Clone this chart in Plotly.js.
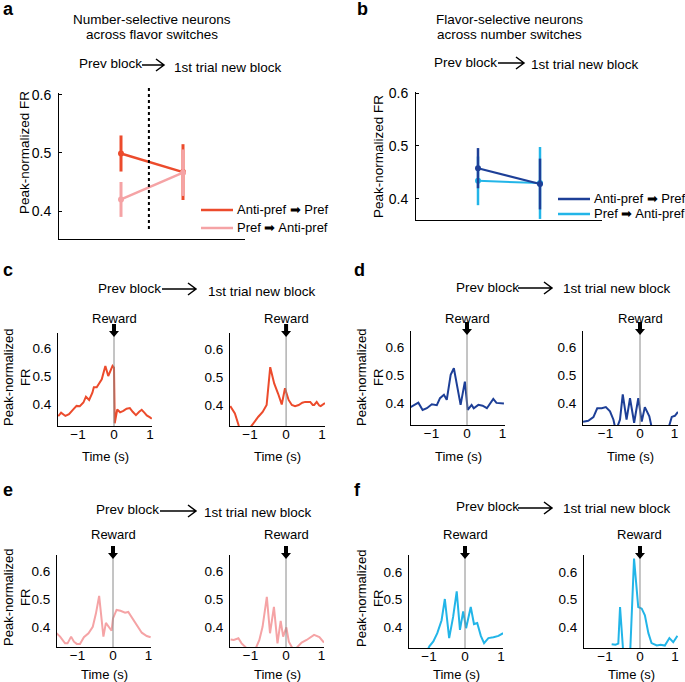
<!DOCTYPE html>
<html>
<head>
<meta charset="utf-8">
<script src="https://cdn.plot.ly/plotly-3.0.1.min.js"></script>
<style>html,body{margin:0;padding:0;background:#fff;}#chart{width:685px;height:682px;}</style>
</head>
<body>
<div id="chart"></div>
<script>
// ---------------- DATA ----------------
// Panel a: number-selective neurons across flavor switches
const blockPos = [1, 2];                    // prev block, 1st trial new block
const aAntiPref = [0.499, 0.467];
const aAntiPrefErr = [0.031, 0.048];
const aPref = [0.420, 0.466];
const aPrefErr = [0.030, 0.040];
// Panel b: flavor-selective neurons across number switches
const bAntiPref = [0.458, 0.428];
const bAntiPrefErr = [0.038, 0.048];
const bPref = [0.434, 0.430];
const bPrefErr = [0.046, 0.068];

const legendLabels = ['Anti-pref \u27A1 Pref', 'Pref \u27A1 Anti-pref'];
const yTickVals = [0.4, 0.5, 0.6];
const yTickText = ['0.4', '0.5', '0.6'];
const xTickVals = [-1, 0, 1];
const xTickText = ['\u22121', '0', '1'];

// Panel c (red, number-selective anti-pref -> pref)
const cPrevT = [-1.55,-1.47,-1.35,-1.25,-1.15,-1.04,-0.95,-0.85,-0.78,-0.69,-0.60,-0.56,-0.48,-0.40,-0.34,-0.24,-0.16,-0.04,0.0,0.02,0.09,0.17,0.26,0.35,0.44,0.52,0.61,0.70,0.77,0.85,0.91,1.0,1.05];
const cPrevFR = [0.356,0.369,0.357,0.363,0.378,0.393,0.392,0.405,0.426,0.414,0.440,0.460,0.460,0.475,0.488,0.536,0.500,0.536,0.530,0.331,0.380,0.370,0.375,0.383,0.385,0.372,0.360,0.372,0.379,0.368,0.359,0.352,0.347];
const cNewT = [-1.55,-1.42,-1.31,-1.2,-1.05,-0.88,-0.77,-0.65,-0.54,-0.44,-0.33,-0.22,-0.12,-0.03,0.07,0.16,0.25,0.35,0.45,0.53,0.67,0.74,0.78,0.85,0.92,0.96,1.08];
const cNewFR = [0.396,0.370,0.325,0.290,0.310,0.340,0.358,0.375,0.400,0.535,0.477,0.440,0.402,0.460,0.418,0.400,0.396,0.400,0.408,0.411,0.411,0.400,0.400,0.411,0.398,0.396,0.407];
// Panel d (dark blue, flavor-selective anti-pref -> pref)
const dPrevT = [-1.59,-1.37,-1.25,-1.13,-0.99,-0.85,-0.76,-0.65,-0.57,-0.46,-0.37,-0.24,-0.18,-0.06,0.02,0.13,0.19,0.32,0.44,0.56,0.74,0.83,1.04];
const dPrevFR = [0.385,0.401,0.375,0.381,0.395,0.392,0.417,0.429,0.411,0.500,0.524,0.440,0.393,0.476,0.375,0.393,0.381,0.393,0.390,0.381,0.414,0.400,0.398];
const dNewT = [-1.65,-1.5,-1.35,-1.24,-1.11,-0.99,-0.87,-0.77,-0.70,-0.58,-0.50,-0.39,-0.29,-0.17,-0.05,0.05,0.14,0.27,0.36,0.5,0.7,0.85,0.92,1.01,1.1];
const dNewFR = [0.333,0.336,0.349,0.381,0.381,0.385,0.370,0.340,0.300,0.340,0.431,0.340,0.417,0.329,0.417,0.333,0.385,0.352,0.300,0.290,0.290,0.320,0.350,0.354,0.368];
// Panel e (pink, number-selective pref -> anti-pref)
const ePrevT = [-1.59,-1.49,-1.35,-1.28,-1.18,-1.10,-1.02,-0.93,-0.82,-0.69,-0.57,-0.48,-0.39,-0.27,-0.2,-0.11,-0.04,0.0,0.10,0.21,0.34,0.43,0.52,0.67,0.81,0.95,1.06];
const ePrevFR = [0.378,0.366,0.342,0.342,0.366,0.348,0.340,0.340,0.364,0.378,0.401,0.449,0.511,0.366,0.415,0.401,0.387,0.431,0.461,0.458,0.451,0.454,0.437,0.407,0.380,0.368,0.364];
const eNewT = [-1.56,-1.47,-1.34,-1.25,-1.11,-1.0,-0.85,-0.75,-0.66,-0.54,-0.45,-0.34,-0.24,-0.15,-0.08,0.01,0.08,0.18,0.29,0.44,0.58,0.79,0.94,1.07];
const eNewFR = [0.356,0.354,0.360,0.342,0.325,0.320,0.325,0.354,0.401,0.508,0.378,0.472,0.342,0.422,0.366,0.399,0.348,0.325,0.325,0.345,0.354,0.372,0.364,0.345];
// Panel f (light blue, flavor-selective pref -> anti-pref)
const fPrevT = [-1.1,-0.99,-0.88,-0.77,-0.65,-0.56,-0.44,-0.33,-0.23,-0.14,-0.05,0.03,0.16,0.25,0.34,0.44,0.53,0.65,0.79,0.93,1.06];
const fPrevFR = [0.300,0.330,0.348,0.378,0.425,0.502,0.360,0.437,0.530,0.390,0.457,0.396,0.473,0.411,0.415,0.368,0.342,0.360,0.363,0.368,0.378];
const fNewT = [-0.81,-0.70,-0.62,-0.57,-0.48,-0.38,-0.28,-0.17,-0.05,0.05,0.14,0.24,0.33,0.48,0.59,0.71,0.84,0.95,1.07];
const fNewFR = [0.338,0.336,0.340,0.473,0.310,0.300,0.310,0.649,0.473,0.467,0.443,0.378,0.342,0.333,0.336,0.333,0.360,0.345,0.368];

// ---------------- STYLE / LAYOUT ----------------
const W = 685, H = 682;
const FONT = 'Liberation Sans, Arial, Helvetica, sans-serif';
const RED = '#ec4b2c', PINK = '#f5a3a5', DBLUE = '#1d3f97', LBLUE = '#22b5e8';
const px = x => x / W;
const py = y => 1 - y / H;

// pixel boxes and axis ranges of the ten plot areas
const panels = [
  {id:'',   l:59,  r:245, t:93,  b:239, xr:[0,3],          yr:[0.352,0.603], big:true},
  {id:'2',  l:416, r:602, t:92,  b:220, xr:[0,3],          yr:[0.360,0.602], big:true},
  {id:'3',  l:58,  r:152, t:333, b:426, xr:[-1.556,1.056], yr:[0.321,0.654]},
  {id:'4',  l:230, r:325, t:333, b:426, xr:[-1.556,1.08],  yr:[0.325,0.657]},
  {id:'5',  l:411, r:505, t:331, b:425, xr:[-1.577,1.07],  yr:[0.321,0.657]},
  {id:'6',  l:583, r:678, t:331, b:425, xr:[-1.652,1.101], yr:[0.321,0.658]},
  {id:'7',  l:57,  r:151, t:555, b:647, xr:[-1.577,1.07],  yr:[0.329,0.657]},
  {id:'8',  l:230, r:324, t:555, b:647, xr:[-1.577,1.07],  yr:[0.329,0.657]},
  {id:'9',  l:409, r:503, t:555, b:648, xr:[-1.556,1.056], yr:[0.324,0.662]},
  {id:'10', l:584, r:678, t:555, b:648, xr:[-1.6,1.086],   yr:[0.324,0.662]}
];

const layout = {
  width: W, height: H,
  margin: {l:0, r:0, t:0, b:0, pad:0},
  paper_bgcolor: '#fff', plot_bgcolor: 'rgba(0,0,0,0)',
  showlegend: false,
  font: {family: FONT, size: 13, color: '#000'},
  shapes: [], annotations: []
};

panels.forEach(p => {
  const xa = {
    domain: [px(p.l), px(p.r)], range: p.xr, anchor: 'y' + p.id,
    showline: true, linecolor: '#000', linewidth: 1, showgrid: false, zeroline: false,
    ticks: '', fixedrange: true,
    tickfont: {family: FONT, size: 13.5, color: '#000'}
  };
  if (p.big) { xa.showticklabels = false; }
  else { xa.tickvals = xTickVals; xa.ticktext = xTickText; xa.ticklabelstandoff = -4; }
  const ya = {
    domain: [py(p.b), py(p.t)], range: p.yr, anchor: 'x' + p.id,
    showline: true, linecolor: '#000', linewidth: 1, showgrid: false, zeroline: false,
    tickvals: yTickVals, ticktext: yTickText,
    ticks: p.big ? 'inside' : '', ticklen: 3, tickcolor: '#000', fixedrange: true,
    tickfont: {family: FONT, size: p.big ? 14 : 13.5, color: '#000'},
    ticklabelstandoff: p.big ? 4 : 3
  };
  layout['xaxis' + p.id] = xa;
  layout['yaxis' + p.id] = ya;
});

// ---------------- TRACES ----------------
const traces = [];
function pointTrace(y, err, color, axId, width, thick) {
  return {
    x: blockPos, y: y, xaxis: 'x' + axId, yaxis: 'y' + axId,
    type: 'scatter', mode: 'lines+markers',
    line: {color: color, width: width},
    marker: {color: color, size: 6},
    error_y: {type: 'data', array: err, visible: true, color: color, thickness: thick, width: 0},
    hoverinfo: 'skip'
  };
}
traces.push(pointTrace(aAntiPref, aAntiPrefErr, RED, '', 2.5, 3));
traces.push(pointTrace(aPref, aPrefErr, PINK, '', 2.5, 3));
traces.push(pointTrace(bPref, bPrefErr, LBLUE, '2', 2, 2.5));
traces.push(pointTrace(bAntiPref, bAntiPrefErr, DBLUE, '2', 2, 2.5));

const psth = [
  [cPrevT, cPrevFR, RED, '3'], [cNewT, cNewFR, RED, '4'],
  [dPrevT, dPrevFR, DBLUE, '5'], [dNewT, dNewFR, DBLUE, '6'],
  [ePrevT, ePrevFR, PINK, '7'], [eNewT, eNewFR, PINK, '8'],
  [fPrevT, fPrevFR, LBLUE, '9'], [fNewT, fNewFR, LBLUE, '10']
];
psth.forEach(([t, y, c, id]) => {
  traces.push({x: t, y: y, xaxis: 'x' + id, yaxis: 'y' + id, type: 'scatter', mode: 'lines',
    line: {color: c, width: 2}, hoverinfo: 'skip'});
});

// ---------------- DECORATIONS ----------------
const S = layout.shapes, A = layout.annotations;
function text(x, y, s, opt) {
  A.push(Object.assign({x: px(x), y: py(y), xref: 'paper', yref: 'paper', text: s, showarrow: false,
    xanchor: 'center', yanchor: 'middle', font: {family: FONT, size: 13, color: '#000'}}, opt || {}));
}
const F135 = {font: {family: FONT, size: 13.5, color: '#000'}};
// panel letters
[['a',1,9],['b',355,9],['c',1,270],['d',352,270],['e',1,490],['f',352,490]].forEach(([s,x,y]) =>
  text(x, y, '<b>' + s + '</b>', {xanchor: 'left', font: {family: FONT, size: 18, color: '#000'}}));
// titles
text(152, 20, 'Number-selective neurons', F135); text(152, 35, 'across flavor switches', F135);
text(509, 20, 'Flavor-selective neurons', F135); text(509, 35, 'across number switches', F135);
// "Prev block -> 1st trial new block" headers
function header(xPrev, yPrev, ax0, ax1, ay, xNew, yNew) {
  text(xPrev, yPrev, 'Prev block', Object.assign({xanchor: 'left'}, F135));
  text(xNew, yNew, '1st trial new block', Object.assign({xanchor: 'left'}, F135));
  const L = ax1 - ax0;
  S.push({type: 'path', xref: 'paper', yref: 'paper', xsizemode: 'pixel', ysizemode: 'pixel',
    xanchor: px(ax0), yanchor: py(ay),
    path: `M0,0 L${L},0 M${L-8},6 L${L},0 L${L-8},-6`,
    line: {color: '#000', width: 1.5}, fillcolor: 'rgba(0,0,0,0)'});
}
header(77, 63, 142, 164, 65, 172, 67);
header(432, 62, 498, 524, 63, 529, 64);
header(96, 288, 162, 196, 289, 206, 291);
header(454, 287, 518, 552, 288, 561, 288);
header(94, 509, 160, 196, 511, 202, 512);
header(454, 506, 518, 552, 508, 561, 508);

// y-axis titles
text(24, 153, 'Peak-normalized FR', Object.assign({textangle: -90}, F135));
text(378, 157, 'Peak-normalized FR', Object.assign({textangle: -90}, F135));
[[17,377],[370,377],[17,597],[370,598]].forEach(([x,y]) =>
  text(x, y, 'Peak-normalized<br>FR', {textangle: -90}));
// x-axis titles
[['3',456],['4',456],['5',456],['6',456],['7',674],['8',674],['9',674],['10',674]].forEach(([id,y]) =>
  A.push({x: 0.5, xref: 'x' + id + ' domain', y: py(y), yref: 'paper', text: 'Time (s)', showarrow: false,
    xanchor: 'center', yanchor: 'middle', font: {family: FONT, size: 13, color: '#000'}}));

// reward markers: vertical line at t = 0, block arrow, label
panels.slice(2).forEach(p => {
  S.push({type: 'line', xref: 'x' + p.id, yref: 'y' + p.id + ' domain', x0: 0, x1: 0, y0: 0, y1: 1,
    line: {color: '#8a8a8a', width: 1}});
  const tip = p.t + 4;
  S.push({type: 'path', xref: 'x' + p.id, yref: 'paper', xsizemode: 'pixel', ysizemode: 'pixel',
    xanchor: 0, yanchor: py(tip),
    path: 'M0,0 L-5,6 L-2,6 L-2,13 L2,13 L2,6 L5,6 Z', fillcolor: '#000', line: {width: 0}});
  A.push({x: 0, xref: 'x' + p.id, y: py(p.t < 400 ? 318 : 534), yref: 'paper', text: 'Reward',
    showarrow: false, xanchor: 'center', yanchor: 'middle', font: {family: FONT, size: 13, color: '#000'}});
});

// dotted block boundary in panel a
S.push({type: 'line', xref: 'x', yref: 'paper', x0: 1.45, x1: 1.45, y0: py(88), y1: py(230),
  line: {color: '#000', width: 2, dash: 'dot'}});

// legends (a and b)
function legendRow(x0, x1, y, color, label) {
  S.push({type: 'line', xref: 'paper', yref: 'paper', x0: px(x0), x1: px(x1), y0: py(y), y1: py(y),
    line: {color: color, width: 2.5}});
  text(x1 + 2, y, label, {xanchor: 'left'});
}
legendRow(201, 233, 210, RED, legendLabels[0]);
legendRow(201, 233, 228, PINK, legendLabels[1]);
legendRow(558, 590, 199, DBLUE, legendLabels[0]);
legendRow(558, 590, 214, LBLUE, legendLabels[1]);

Plotly.newPlot('chart', traces, layout, {staticPlot: true, displayModeBar: false});
</script>
</body>
</html>
